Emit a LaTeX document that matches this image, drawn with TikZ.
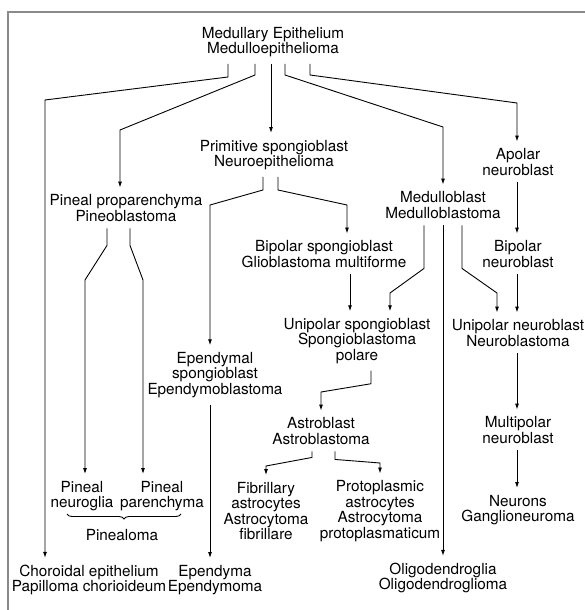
\documentclass[tikz,border=0pt]{standalone}
\usepackage{fontspec}
\setmainfont{TeX Gyre Heros}
\usetikzlibrary{arrows.meta,calc,decorations.pathreplacing}
\tikzstyle{txt}=[align=center, inner sep=2pt, outer sep=5pt, font=\fontsize{15.3}{15.5}\selectfont]
\tikzstyle{l1}=[line width=0.9]
\tikzstyle{arr}=[l1, -{Latex[length=6pt,width=4pt]}]
\tikzstyle{frame}=[line width=1.6, draw=mgray]
\definecolor{mgray}{HTML}{8A8A8A}

\begin{document}
\begin{tikzpicture}[x=1pt, y=-1pt]

    \useasboundingbox (0,0) rectangle (585,610);
    \draw[frame] (585,12) -- (8,12) -- (8,610);

    \node[txt] at (273,42) (me) {Medullary Epithelium\\Medulloepithelioma};
    \node[txt] at (274,155) (ps) {Primitive spongioblast\\Neuroepithelioma};
    \node[txt] at (126,208) (pp) {Pineal proparenchyma\\Pineoblastoma};
    \node[txt] at (443,205) (mb) {Medulloblast\\Medulloblastoma};
    \node[txt] at (518,162) (an) {Apolar\\neuroblast};
    \node[txt] at (324,254) (bs) {Bipolar spongioblast\\Glioblastoma multiforme};
    \node[txt] at (518,254) (bn) {Bipolar\\neuroblast};
    \node[txt] at (357,341) (us) {Unipolar spongioblast\\Spongioblastoma\\polare};
    \node[txt] at (518,333) (un) {Unipolar neuroblast\\Neuroblastoma};
    \node[txt] at (215,375) (es) {Ependymal\\spongioblast\\Ependymoblastoma};
    \node[txt] at (321,431) (ab) {Astroblast\\Astroblastoma};
    \node[txt] at (518,430) (mn) {Multipolar\\neuroblast};
    \node[txt] at (266,511) (fa) {Fibrillary\\astrocytes\\Astrocytoma\\fibrillare};
    \node[txt] at (380,511) (pa) {Protoplasmic\\astrocytes\\Astrocytoma\\protoplasmaticum};
    \node[txt] at (518,510) (ng) {Neurons\\Ganglioneuroma};
    \node[txt] at (82,496) (pn) {Pineal\\neuroglia};
    \node[txt] at (162,496) (pc) {Pineal\\parenchyma};
    \node[txt] at (122,535) (pl) {Pinealoma};
    \node[txt] at (89,580) (ce) {Choroidal epithelium\\Papilloma chorioideum};
    \node[txt] at (215,580) (ep) {Ependyma\\Ependymoma};
    \node[txt] at (443,578) (ol) {Oligodendroglia\\Oligodendroglioma};

    % from the medullary epithelium
    \draw[arr] ([xshift=-45pt]me.south) -- ++(0,13) -- (45,100) -- ([xshift=-44pt]ce.north);
    \draw[arr] ([xshift=-18pt]me.south) -- ++(0,11) -- (120,130) -- ([xshift=-6pt]pp.north);
    \draw[arr] ([xshift=-2pt]me.south) -- ([xshift=-3pt]ps.north);
    \draw[arr] ([xshift=12pt]me.south) -- ++(0,11) -- (443,127) -- (mb.north);
    \draw[arr] ([xshift=37pt]me.south) -- ++(0,11) -- (517,103) -- ([xshift=-1pt]an.north);

    % spongioblast line
    \draw[arr] ([xshift=-11pt]ps.south) -- ++(0,13) -- (210,205) -- ([xshift=-5pt]es.north);
    \draw[arr] ([xshift=4pt]ps.south) -- ++(0,13) -- (347,205) -- ([xshift=23pt]bs.north);
    \draw[arr] ([xshift=26pt]bs.south) -- ([xshift=-7pt]us.north);
    \draw[arr] ([xshift=-5pt]es.south) -- ([xshift=-5pt]ep.north);
    \draw[arr] ([xshift=14pt]us.south) -- ++(0,13) -- (321,392) -- (ab.north);
    \draw[arr] ([xshift=-9pt]ab.south) -- ++(0,6) -- (266,466) -- (fa.north);
    \draw[arr] ([xshift=14pt]ab.south) -- ++(0,8) -- (380,463) -- (pa.north);

    % pineal
    \draw[arr] ([xshift=-19pt]pp.south) -- ++(0,17) -- (85,280) -- ([xshift=3pt]pn.north);
    \draw[arr] ([xshift=4pt]pp.south) -- ++(0,17) -- (143,280) -- ([xshift=-19pt]pc.north);
    \draw[l1, decorate, decoration={brace, mirror, amplitude=5pt}] (67,514) -- (181,514);

    % medulloblast
    \draw[arr] ([xshift=-19pt]mb.south) -- ++(0,43) -- (390,293) -- ([xshift=33pt]us.north);
    \draw[arr] ([xshift=19pt]mb.south) -- ++(0,43) -- (497,293) -- ([xshift=-21pt]un.north);
    \draw[arr] (mb.south) -- (ol.north);

    % neuroblast line
    \draw[arr] ([xshift=-1pt]an.south) -- ([xshift=-1pt]bn.north);
    \draw[arr] ([xshift=-1pt]bn.south) -- ([xshift=-1pt]un.north);
    \draw[arr] ([xshift=-1pt]un.south) -- ([xshift=-1pt]mn.north);
    \draw[arr] ([xshift=-1pt]mn.south) -- ([xshift=-1pt]ng.north);

\end{tikzpicture}
\end{document}
